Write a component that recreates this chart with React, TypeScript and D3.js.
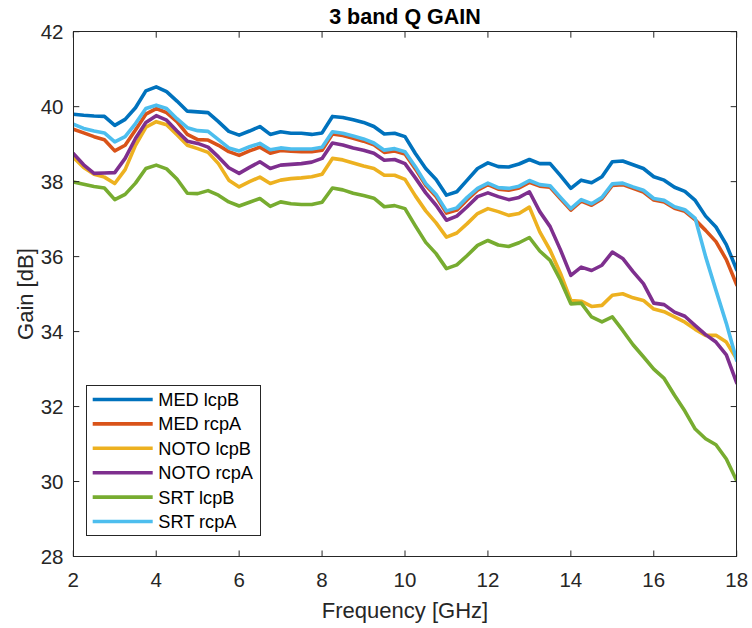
import React from "react";
import * as d3 from "d3";

const freq: number[] = [
  2.0, 2.25, 2.5, 2.75, 3.0, 3.25, 3.5, 3.75, 4.0, 4.25, 4.5, 4.75, 5.0, 5.25, 5.5, 5.75,
  6.0, 6.25, 6.5, 6.75, 7.0, 7.25, 7.5, 7.75, 8.0, 8.25, 8.5, 8.75, 9.0, 9.25, 9.5, 9.75,
  10.0, 10.25, 10.5, 10.75, 11.0, 11.25, 11.5, 11.75, 12.0, 12.25, 12.5, 12.75, 13.0, 13.25, 13.5, 13.75,
  14.0, 14.25, 14.5, 14.75, 15.0, 15.25, 15.5, 15.75, 16.0, 16.25, 16.5, 16.75, 17.0, 17.25, 17.5, 17.75, 18.0,
];

const medLcpB: number[] = [
  39.8, 39.77, 39.75, 39.74, 39.5, 39.66, 39.97, 40.42, 40.53, 40.4, 40.15, 39.88, 39.86, 39.84, 39.6, 39.34,
  39.24, 39.35, 39.47, 39.26, 39.33, 39.29, 39.29, 39.26, 39.3, 39.74, 39.71, 39.65, 39.58, 39.47, 39.27, 39.29,
  39.2, 38.75, 38.35, 38.06, 37.64, 37.73, 38.04, 38.35, 38.5, 38.4, 38.39, 38.47, 38.59, 38.48, 38.48, 38.16,
  37.82, 38.04, 37.97, 38.13, 38.53, 38.55, 38.45, 38.35, 38.13, 38.04, 37.85, 37.74, 37.5, 37.08, 36.79, 36.32, 35.65,
];

const medRcpA: number[] = [
  39.4, 39.3, 39.2, 39.12, 38.82, 38.97, 39.38, 39.8, 39.95, 39.84, 39.6, 39.26, 39.12, 39.11, 38.97, 38.8,
  38.7, 38.82, 38.92, 38.76, 38.83, 38.81, 38.8, 38.8, 38.84, 39.27, 39.23, 39.16, 39.08, 38.98, 38.78, 38.82,
  38.74, 38.34, 37.9, 37.6, 37.16, 37.24, 37.52, 37.77, 37.92, 37.8, 37.77, 37.83, 37.98, 37.88, 37.85, 37.54,
  37.24, 37.48, 37.37, 37.54, 37.9, 37.92, 37.82, 37.72, 37.51, 37.46, 37.29, 37.21, 36.98, 36.7, 36.4, 35.92, 35.25,
];

const notoLcpB: number[] = [
  38.65, 38.38, 38.2, 38.12, 37.95, 38.32, 38.97, 39.45, 39.6, 39.52, 39.25, 38.97, 38.88, 38.78, 38.48, 38.04,
  37.86, 38.0, 38.12, 37.95, 38.04, 38.08, 38.1, 38.13, 38.2, 38.62, 38.58, 38.5, 38.42, 38.35, 38.17, 38.17,
  38.06, 37.62, 37.22, 36.9, 36.52, 36.63, 36.88, 37.15, 37.28, 37.2, 37.1, 37.15, 37.32, 36.66, 36.17, 35.55,
  34.83, 34.81, 34.67, 34.7, 34.97, 35.01, 34.9, 34.83, 34.6, 34.53, 34.39, 34.25, 34.06, 33.9, 33.9, 33.72, 33.27,
];

const notoRcpA: number[] = [
  38.75, 38.45, 38.22, 38.23, 38.24, 38.62, 39.15, 39.58, 39.76, 39.64, 39.35, 39.08, 39.02, 38.92, 38.66, 38.37,
  38.22, 38.38, 38.53, 38.35, 38.44, 38.46, 38.48, 38.52, 38.62, 39.03, 38.98, 38.9, 38.84, 38.76, 38.57, 38.59,
  38.48, 38.1, 37.7, 37.37, 36.97, 37.08, 37.33, 37.6, 37.7, 37.6, 37.52, 37.58, 37.73, 37.2, 36.8, 36.18,
  35.5, 35.72, 35.63, 35.77, 36.12, 35.95, 35.6, 35.28, 34.76, 34.72, 34.52, 34.41, 34.16, 33.92, 33.72, 33.38, 32.63,
];

const srtLcpB: number[] = [
  37.99, 37.93, 37.87, 37.83, 37.52, 37.66, 37.96, 38.35, 38.44, 38.34, 38.07, 37.69, 37.68, 37.76, 37.64, 37.46,
  37.35, 37.45, 37.55, 37.34, 37.46, 37.41, 37.39, 37.39, 37.45, 37.83, 37.78, 37.69, 37.63, 37.56, 37.33, 37.36,
  37.28, 36.82, 36.38, 36.08, 35.68, 35.78, 36.03, 36.3, 36.43, 36.31, 36.27, 36.37, 36.51, 36.15, 35.9, 35.37,
  34.74, 34.76, 34.39, 34.26, 34.39, 34.03, 33.65, 33.33, 33.0, 32.75, 32.3, 31.88, 31.4, 31.14, 30.98, 30.6, 30.02,
];

const srtRcpA: number[] = [
  39.53, 39.42, 39.35, 39.3, 39.06, 39.2, 39.55, 39.95, 40.04, 39.95, 39.68, 39.44, 39.36, 39.34, 39.12, 38.9,
  38.82, 38.93, 39.02, 38.85, 38.9, 38.87, 38.87, 38.87, 38.92, 39.33, 39.29, 39.22, 39.14, 39.03, 38.84, 38.88,
  38.8, 38.4, 37.95, 37.66, 37.22, 37.3, 37.58, 37.82, 37.96, 37.84, 37.82, 37.88, 38.03, 37.92, 37.89, 37.58,
  37.28, 37.52, 37.41, 37.58, 37.94, 37.96, 37.86, 37.77, 37.55, 37.5, 37.33, 37.25, 37.02, 36.0, 35.1, 34.22, 33.23,
];

const seriesNames: string[] = ["MED lcpB", "MED rcpA", "NOTO lcpB", "NOTO rcpA", "SRT lcpB", "SRT rcpA"];
const seriesColors: string[] = ["#0072BD", "#D95319", "#EDB120", "#7E2F8E", "#77AC30", "#4DBEEE"];
const seriesValues: number[][] = [medLcpB, medRcpA, notoLcpB, notoRcpA, srtLcpB, srtRcpA];

const xTicks: number[] = [2, 4, 6, 8, 10, 12, 14, 16, 18];
const yTicks: number[] = [28, 30, 32, 34, 36, 38, 40, 42];

const title = "3 band Q GAIN";
const xLabel = "Frequency [GHz]";
const yLabel = "Gain [dB]";

export default function App() {
  const W = 752;
  const H = 628;
  const left = 73.3;
  const right = 736.7;
  const top = 31.7;
  const bottom = 556.5;

  const x = d3.scaleLinear().domain([2, 18]).range([left, right]);
  const y = d3.scaleLinear().domain([28, 42]).range([bottom, top]);

  const line = d3
    .line<[number, number]>()
    .x((d) => x(d[0]))
    .y((d) => y(d[1]));

  const axisColor = "#262626";
  const font = "'Liberation Sans', Arial, Helvetica, sans-serif";
  const tickLen = 6;

  const legX = 86.7;
  const legY = 385;
  const legW = 173.3;
  const legH = 150;
  const rowY0 = 399.5;
  const rowDy = 24.4;

  return (
    <svg
      width={W}
      height={H}
      viewBox={`0 0 ${W} ${H}`}
      style={{ position: "absolute", left: 0, top: 0, background: "#fff", display: "block" }}
      fontFamily={font}
    >
      <rect x={0} y={0} width={W} height={H} fill="#fff" />
      <defs>
        <clipPath id="plotclip">
          <rect x={left} y={top} width={right - left} height={bottom - top} />
        </clipPath>
      </defs>

      {/* series */}
      <g clipPath="url(#plotclip)">
        {seriesValues.map((vals, i) => (
          <path
            key={seriesNames[i]}
            d={line(freq.map((f, k) => [f, vals[k]] as [number, number])) || ""}
            fill="none"
            stroke={seriesColors[i]}
            strokeWidth={3.6}
            strokeLinejoin="round"
            strokeLinecap="round"
          />
        ))}
      </g>

      {/* box */}
      <rect
        x={left}
        y={top}
        width={right - left}
        height={bottom - top}
        fill="none"
        stroke={axisColor}
        strokeWidth={1}
        shapeRendering="crispEdges"
      />

      {/* x ticks */}
      {xTicks.map((t) => (
        <g key={"xt" + t}>
          <line x1={x(t)} x2={x(t)} y1={bottom} y2={bottom - tickLen} stroke={axisColor} strokeWidth={1} />
          <line x1={x(t)} x2={x(t)} y1={top} y2={top + tickLen} stroke={axisColor} strokeWidth={1} />
          <text x={x(t)} y={587} textAnchor="middle" fontSize={20.5} fill={axisColor}>
            {t}
          </text>
        </g>
      ))}

      {/* y ticks */}
      {yTicks.map((t) => (
        <g key={"yt" + t}>
          <line x1={left} x2={left + tickLen} y1={y(t)} y2={y(t)} stroke={axisColor} strokeWidth={1} />
          <line x1={right} x2={right - tickLen} y1={y(t)} y2={y(t)} stroke={axisColor} strokeWidth={1} />
          <text x={63.5} y={y(t)} dy="0.36em" textAnchor="end" fontSize={20.5} fill={axisColor}>
            {t}
          </text>
        </g>
      ))}

      {/* title */}
      <text x={(left + right) / 2} y={24} textAnchor="middle" fontSize={21.5} fontWeight="bold" fill="#000">
        {title}
      </text>

      {/* axis labels */}
      <text x={(left + right) / 2} y={618} textAnchor="middle" fontSize={22} fill={axisColor}>
        {xLabel}
      </text>
      <text
        transform={`translate(33,${(top + bottom) / 2}) rotate(-90)`}
        textAnchor="middle"
        fontSize={22}
        fill={axisColor}
      >
        {yLabel}
      </text>

      {/* legend */}
      <rect x={legX} y={legY} width={legW} height={legH} fill="#fff" stroke={axisColor} strokeWidth={1} shapeRendering="crispEdges" />
      {seriesNames.map((name, i) => (
        <g key={"lg" + name}>
          <line
            x1={92.7}
            x2={152.7}
            y1={rowY0 + i * rowDy}
            y2={rowY0 + i * rowDy}
            stroke={seriesColors[i]}
            strokeWidth={3.6}
          />
          <text x={158.3} y={rowY0 + i * rowDy} dy="0.36em" fontSize={18.2} fill="#000">
            {name}
          </text>
        </g>
      ))}
    </svg>
  );
}
